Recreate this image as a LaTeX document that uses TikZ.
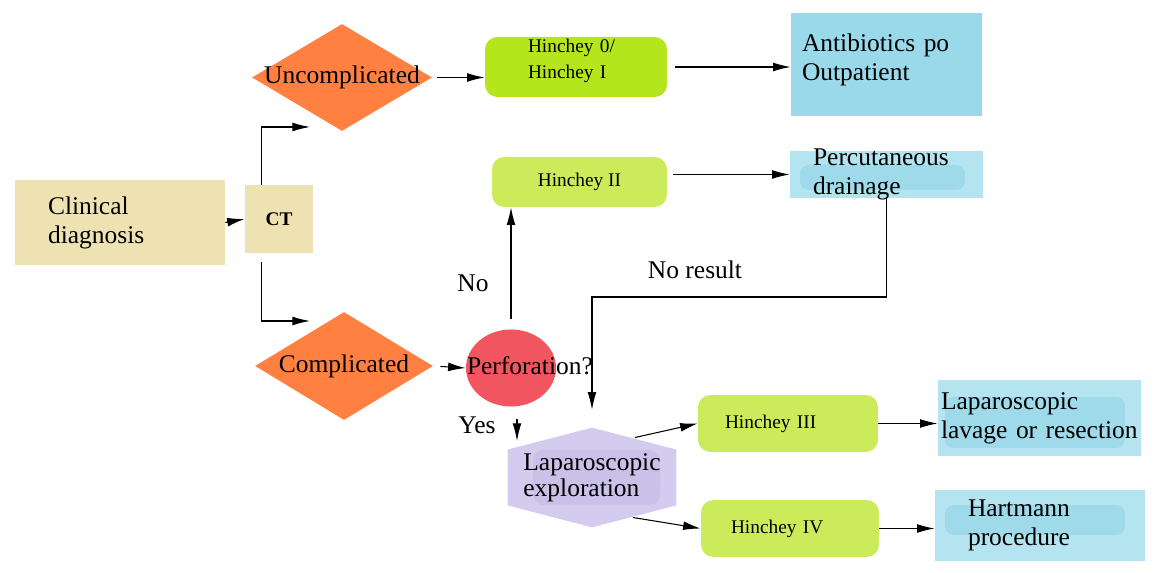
\documentclass[tikz,border=0pt]{standalone}
\usepackage{fontspec}
\setmainfont{Liberation Serif}
\usetikzlibrary{shapes.geometric, arrows.meta, calc, backgrounds}
\definecolor{khaki}{HTML}{EFE2B2}
\definecolor{dorange}{HTML}{FF8040}
\definecolor{limedark}{HTML}{B5E61D}
\definecolor{limelight}{HTML}{CBEB5A}
\definecolor{skyblue}{HTML}{99D9EA}
\definecolor{paleblue}{HTML}{B4E4EF}
\definecolor{smudgeblue}{HTML}{9FDAEA}
\definecolor{perfred}{HTML}{F1555F}
\definecolor{lavender}{HTML}{D3CCEE}
\definecolor{lavdark}{HTML}{C9C1E8}

\newcommand{\bigtxt}{\fontsize{14.5}{16.5}\selectfont}
\newcommand{\smalltxt}{\fontsize{11}{15}\selectfont}
\newcommand{\nowidth}[1]{\makebox[0pt]{#1}}

\tikzset{
  box/.style={rectangle, inner ysep=0pt, align=left, font=\bigtxt},
  hbox/.style={rectangle, rounded corners=7pt, inner ysep=0pt, align=left, font=\smalltxt},
  decision/.style={diamond, fill=dorange, inner sep=0pt, font=\bigtxt},
  smudge/.style n args={4}{path picture={\fill[smudgeblue, rounded corners=5pt]
      ([shift={(#1,#2)}]path picture bounding box.center) rectangle ([shift={(#3,#4)}]path picture bounding box.center);}},
  arr/.style={-{Latex[length=10pt,width=5pt]}, line width=0.6pt, black},
}

\begin{document}
\begin{tikzpicture}[x=0.02cm, y=-0.02cm]
  \useasboundingbox (0,0) rectangle (1169,573);

  % left part
  \node[box, fill=khaki, minimum height=1.7cm, inner xsep=0.66cm, text width=2.88cm] (clin) at (120,222.5) {Clinical\\diagnosis};
  \node[rectangle, fill=khaki, minimum width=1.36cm, minimum height=1.36cm, font=\smalltxt\bfseries] (ct) at (279,219) {CT};
  \node[decision, minimum width=3.6cm, minimum height=2.14cm] (unc) at (342,77.5) {\nowidth{Uncomplicated}};
  \node[decision, minimum width=3.56cm, minimum height=2.16cm] (comp) at (344,366) {\nowidth{Complicated}};
  \node[ellipse, fill=perfred, minimum width=1.8cm, minimum height=1.54cm, inner sep=0pt, font=\bigtxt] (perf) at (511,368)
    {\makebox[0pt][l]{\hspace{-0.88cm}\raisebox{3pt}{Perforation?}}};

  % Hinchey stages
  \node[hbox, fill=limedark, minimum height=1.2cm, inner xsep=0.86cm, text width=1.92cm] (h01) at (576,67) {Hinchey 0/\\Hinchey I\\[-6pt]\mbox{}};
  \node[hbox, fill=limelight, minimum width=3.5cm, minimum height=1.0cm, align=center] (h2) at (579.5,182) {Hinchey II};
  \node[hbox, fill=limelight, minimum height=1.14cm, inner xsep=0.54cm, text width=2.52cm] (h3) at (788,423.5) {Hinchey III};
  \node[hbox, fill=limelight, minimum height=1.14cm, inner xsep=0.6cm, text width=2.36cm] (h4) at (790,528.5) {Hinchey IV};

  % treatments
  \node[box, fill=skyblue, minimum height=2.06cm, inner xsep=0.22cm, text width=3.38cm] (anti) at (886.5,64.5) {Antibiotics po\\Outpatient\\[-8pt]\mbox{}};
  \node[box, fill=paleblue, smudge={-1.73cm}{0.19cm}{1.57cm}{-0.31cm}, minimum height=0.94cm, inner xsep=0.46cm, inner ysep=-3pt, text width=2.94cm] (perc) at (886.5,174.5) {Percutaneous\\drainage};
  \node[box, fill=paleblue, smudge={-1.89cm}{0.42cm}{1.71cm}{-0.6cm}, minimum height=1.52cm, inner xsep=0.06cm, text width=3.94cm] (lav) at (1039.5,418) {Laparoscopic\\lavage or resection};
  \node[box, fill=paleblue, smudge={-1.9cm}{0.41cm}{1.7cm}{-0.19cm}, minimum height=1.42cm, inner xsep=0.66cm, text width=2.88cm] (hart) at (1040,525.5) {Hartmann\\procedure};

  % exploration hexagon
  \node[rectangle, minimum width=3.36cm, minimum height=1.98cm, inner sep=0pt, align=left, font=\bigtxt] (lap) at (592,477.5) {Laparoscopic\\[-1.5pt]exploration};
  \begin{scope}[on background layer]
    \fill[lavender] (lap.north) -- ($(lap.north east)!0.22!(lap.south east)$) -- ($(lap.north east)!0.78!(lap.south east)$)
      -- (lap.south) -- ($(lap.north west)!0.78!(lap.south west)$) -- ($(lap.north west)!0.22!(lap.south west)$) -- cycle;
    \fill[lavdark, rounded corners=6pt] ([shift={(-59,-27.5)}]lap.center) rectangle ([shift={(68,27.5)}]lap.center);
  \end{scope}

  % labels
  \node[font=\bigtxt] (nores) at (695,270) {No result};
  \node[font=\bigtxt] (nolbl) at (473,283) {No};
  \node[font=\bigtxt] (yeslbl) at (477,425) {Yes};

  \coordinate (toU) at (310,127);
  \coordinate (toC) at (310,321);
  \coordinate (kink) at (592,297);

  % connectors
  \draw[arr] (clin.east) -- (ct.west);
  \draw[arr] ([xshift=0.34cm]ct.north west) |- (toU);
  \draw[arr, shorten <=0.18cm] ([xshift=0.34cm]ct.south west) |- (toC);
  \draw[arr, shorten <=0.1cm] (unc.east) -- (unc.east -| h01.west);
  \draw[arr, shorten <=0.16cm] (h01.east) -- (h01.east -| anti.west);
  \draw[arr, shorten <=0.12cm] (h2.east |- perc.west) -- (perc.west);
  \draw[arr, shorten >=0.36cm] (perc.south) |- (kink) -- (lap.north);
  \draw[arr, shorten <=0.14cm] (comp.east) -- (perf.west);
  \draw[arr, shorten <=0.2cm] (perf.north) -- (perf.north |- h2.south);
  \draw[arr, shorten <=0.24cm] ([xshift=0.12cm]perf.south) -- ++(0,34);
  \draw[arr] ([shift={(43,-40)}]lap.center) -- (h3.west);
  \draw[arr] ([shift={(41,40)}]lap.center) -- (h4.west);
  \draw[arr] (h3.east) -- (h3.east -| lav.west);
  \draw[arr] (h4.east) -- (h4.east -| hart.west);
\end{tikzpicture}
\end{document}
